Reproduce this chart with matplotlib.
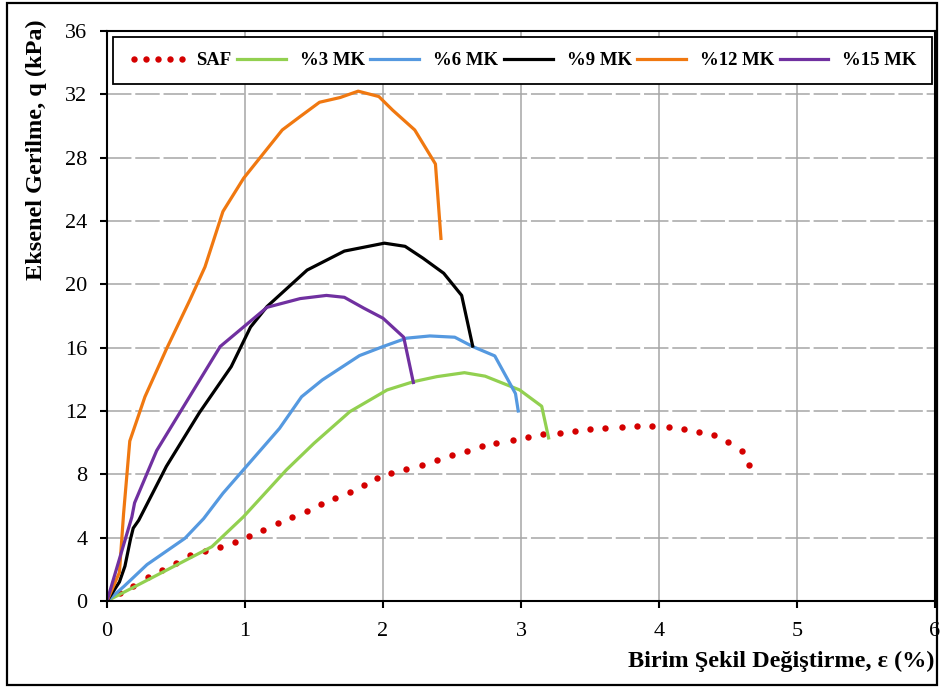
import matplotlib
matplotlib.use("Agg")
import matplotlib.pyplot as plt
from matplotlib.patches import Rectangle

# strain (%) / axial stress (kPa)
saf_x = [0, 0.094, 0.19, 0.30, 0.40, 0.50, 0.60, 0.71, 0.82, 0.93, 1.03, 1.13, 1.24, 1.34,
         1.45, 1.55, 1.65, 1.76, 1.86, 1.96, 2.06, 2.17, 2.28, 2.39, 2.50, 2.61, 2.72, 2.82,
         2.94, 3.05, 3.16, 3.28, 3.39, 3.50, 3.61, 3.73, 3.84, 3.95, 4.07, 4.18, 4.29, 4.40,
         4.50, 4.60, 4.65]
saf_y = [0, 0.49, 0.97, 1.49, 1.96, 2.42, 2.90, 3.18, 3.43, 3.75, 4.10, 4.50, 4.95, 5.29,
         5.70, 6.13, 6.49, 6.87, 7.33, 7.75, 8.07, 8.32, 8.59, 8.90, 9.22, 9.50, 9.81, 10.0,
         10.2, 10.38, 10.53, 10.63, 10.76, 10.86, 10.95, 11.02, 11.04, 11.04, 11.02, 10.89,
         10.70, 10.47, 10.04, 9.46, 8.59]

mk3_x = [0, 0.76, 0.99, 1.30, 1.50, 1.76, 2.03, 2.22, 2.39, 2.59, 2.74, 2.99, 3.15, 3.20]
mk3_y = [0, 3.43, 5.33, 8.28, 9.96, 11.96, 13.33, 13.85, 14.17, 14.42, 14.2, 13.33, 12.3, 10.3]

mk6_x = [0, 0.12, 0.29, 0.565, 0.70, 0.84, 0.99, 1.25, 1.41, 1.56, 1.83, 2.0, 2.17, 2.34,
         2.52, 2.65, 2.81, 2.96, 2.98]
mk6_y = [0, 0.9, 2.3, 3.96, 5.2, 6.8, 8.3, 10.9, 12.9, 13.96, 15.5, 16.07, 16.6, 16.74,
         16.66, 16.07, 15.48, 13.1, 12.0]

mk9_x = [0, 0.09, 0.13, 0.17, 0.19, 0.23, 0.43, 0.67, 0.90, 1.04, 1.16, 1.45, 1.72, 2.01,
         2.16, 2.29, 2.44, 2.57, 2.65]
mk9_y = [0, 1.2, 2.2, 3.9, 4.6, 5.1, 8.5, 11.9, 14.8, 17.3, 18.6, 20.9, 22.1, 22.6,
         22.4, 21.65, 20.7, 19.3, 16.1]

mk12_x = [0, 0.09, 0.12, 0.165, 0.275, 0.43, 0.60, 0.71, 0.84, 0.99, 1.27, 1.40, 1.54,
          1.69, 1.82, 1.97, 2.07, 2.23, 2.38, 2.42]
mk12_y = [0, 1.8, 5.5, 10.1, 12.9, 15.9, 19.0, 21.1, 24.6, 26.7, 29.75, 30.6, 31.5,
          31.8, 32.2, 31.86, 31.0, 29.75, 27.6, 22.9]

mk15_x = [0, 0.18, 0.20, 0.36, 0.82, 1.16, 1.40, 1.59, 1.72, 1.86, 2.0, 2.15, 2.22]
mk15_y = [0, 5.3, 6.2, 9.5, 16.07, 18.55, 19.1, 19.3, 19.18, 18.5, 17.86, 16.66, 13.8]

x_ticks = [0, 1, 2, 3, 4, 5, 6]
y_ticks = [0, 4, 8, 12, 16, 20, 24, 28, 32, 36]

plt.rcParams['font.family'] = ['Liberation Serif', 'DejaVu Serif']

fig = plt.figure(figsize=(9.42, 6.87), dpi=100)
ax = fig.add_axes([107 / 942, 1 - 601 / 687, 828 / 942, 570 / 687])

# grid: solid verticals, dashed horizontals
for xv in x_ticks[1:]:
    ax.axvline(xv, color='#a6a6a6', lw=1.1, zorder=0)
for yv in y_ticks[1:]:
    ax.axhline(yv, color='#a6a6a6', lw=1.1, linestyle=(0, (16, 2.5)), zorder=0)

ax.plot(saf_x, saf_y, linestyle='none', marker='o', ms=4.6, color='#d40000',
        markeredgewidth=0, label='SAF')
ax.plot(mk3_x, mk3_y, color='#92d050', lw=2.3, label='%3 MK')
ax.plot(mk6_x, mk6_y, color='#5599e0', lw=2.3, label='%6 MK')
ax.plot(mk9_x, mk9_y, color='black', lw=2.3, label='%9 MK')
ax.plot(mk12_x, mk12_y, color='#f07810', lw=2.3, label='%12 MK')
ax.plot(mk15_x, mk15_y, color='#7030a0', lw=2.3, label='%15 MK')

ax.set_xlim(0, 6)
ax.set_ylim(0, 36)
ax.set_xticks(x_ticks)
ax.set_yticks(y_ticks)
ax.tick_params(direction='out', length=5, width=1.5, labelsize=16)
ax.tick_params(axis='x', pad=10)
ax.tick_params(axis='y', pad=9)
for s in ax.spines.values():
    s.set_linewidth(1.5)
    s.set_color('black')

leg = ax.legend(loc='upper left', bbox_to_anchor=(0.0072, 0, 0.989, 0.9895),
                mode='expand', ncol=6, numpoints=5, fancybox=False, framealpha=1,
                edgecolor='black', handlelength=3.2, handletextpad=0.45,
                columnspacing=0.7, borderpad=0.8, borderaxespad=0,
                prop={'family': 'Liberation Serif', 'weight': 'bold', 'size': 13.5})
leg.get_frame().set_linewidth(1.3)

fig.text(935 / 942, 1 - 661 / 687, 'Birim Şekil Değiştirme, ε (%)', ha='right', va='center',
         fontsize=17.5, fontweight='bold')
fig.text(36 / 942, 1 - 150 / 687, 'Eksenel Gerilme, q (kPa)', ha='center', va='center',
         rotation=90, fontsize=17.5, fontweight='bold')

# outer frame around the whole picture
fig.patches.append(Rectangle((7 / 942, 1 - 685 / 687), 930 / 942, 682 / 687,
                             transform=fig.transFigure, fill=False, lw=1.6,
                             edgecolor='black'))

fig.savefig('out.png', dpi=100)
